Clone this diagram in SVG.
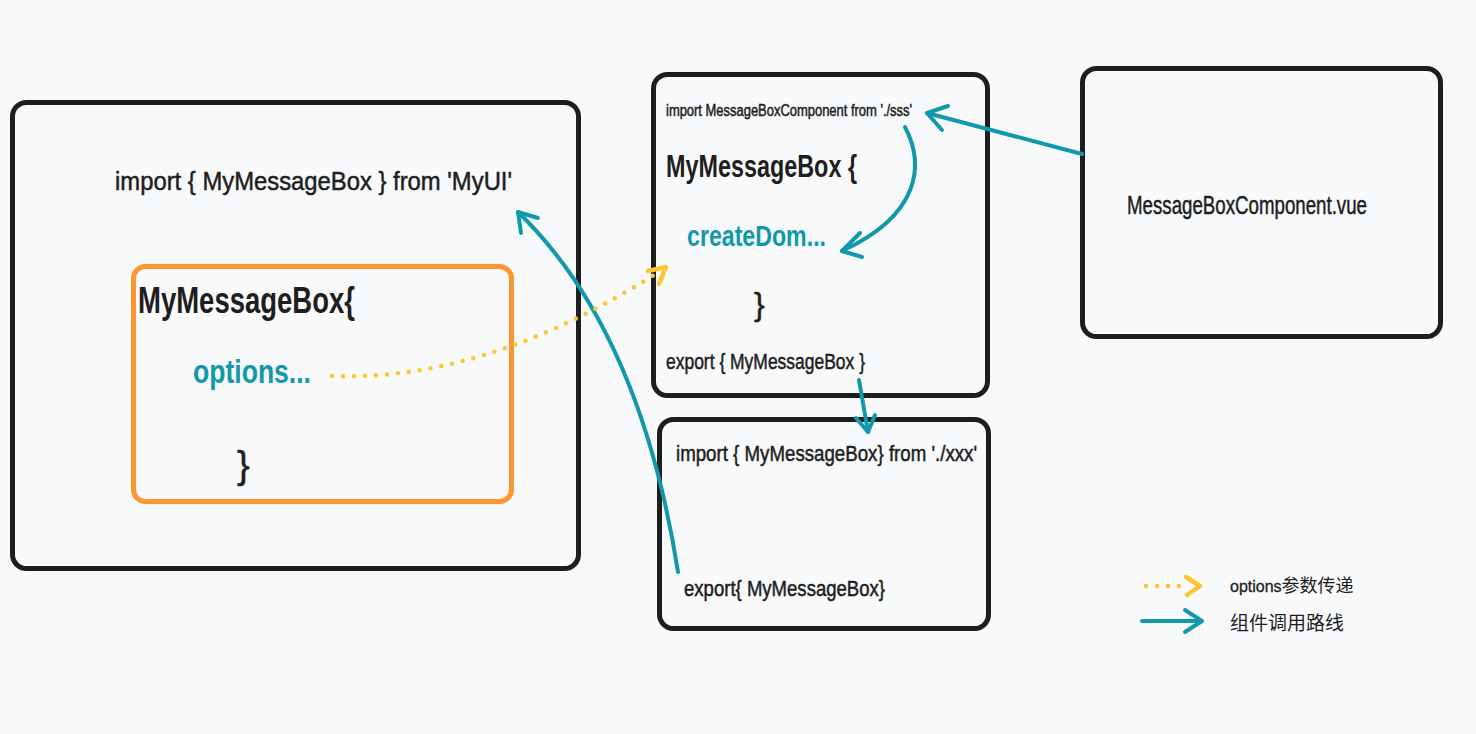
<svg xmlns="http://www.w3.org/2000/svg" width="1476" height="734" viewBox="0 0 1476 734">
<defs>
<style>
.box{fill:none;stroke:#1e1e1e;stroke-width:5;stroke-linejoin:round}
.obox{fill:none;stroke:#fd9632;stroke-width:5;stroke-linejoin:round}
.t{font-family:"Liberation Sans","Noto Sans CJK SC",sans-serif;fill:#1e1e1e}
.r{stroke:#1e1e1e;stroke-width:0.5}
.b{font-weight:bold}
.teal{fill:#1198ab}
.ln{fill:none;stroke:#1098ad;stroke-width:4;stroke-linecap:round;stroke-linejoin:round}
.dot{fill:none;stroke:#fcc630;stroke-width:4.5;stroke-linecap:round;stroke-dasharray:0 11}
.ah{fill:none;stroke:#fcc630;stroke-width:4.5;stroke-linecap:round;stroke-linejoin:round}
</style>
</defs>
<rect width="1476" height="734" fill="#f8f9fa"/>

<g id="node-left">
<rect class="box" x="12.5" y="102.5" width="566" height="466" rx="14"/>
<text class="t r" x="115" y="190" font-size="26" textLength="397" lengthAdjust="spacingAndGlyphs">import { MyMessageBox } from 'MyUI'</text>
</g>

<g id="node-orange">
<rect class="obox" x="133.5" y="266.5" width="378" height="235" rx="12"/>
<text class="t b" x="138" y="313" font-size="37" textLength="217" lengthAdjust="spacingAndGlyphs">MyMessageBox{</text>
<text class="t b teal" x="193" y="383" font-size="33" textLength="118" lengthAdjust="spacingAndGlyphs">options...</text>
<text class="t r" x="237" y="478" font-size="38">}</text>
</g>

<g id="node-mid-top">
<rect class="box" x="653.5" y="74.5" width="334" height="321" rx="14"/>
<text class="t r" x="666" y="116" font-size="16" textLength="246" lengthAdjust="spacingAndGlyphs" stroke-width="0.3">import MessageBoxComponent from './sss'</text>
<text class="t b" x="666" y="177" font-size="31" textLength="191" lengthAdjust="spacingAndGlyphs">MyMessageBox {</text>
<text class="t b teal" x="687" y="246" font-size="30" textLength="139" lengthAdjust="spacingAndGlyphs">createDom...</text>
<text class="t r" x="754" y="315" font-size="32">}</text>
<text class="t r" x="666" y="369" font-size="22" textLength="199" lengthAdjust="spacingAndGlyphs">export { MyMessageBox }</text>
</g>

<g id="node-mid-bottom">
<rect class="box" x="659.5" y="419.5" width="329" height="209" rx="14"/>
<text class="t r" x="676" y="461" font-size="22" textLength="301" lengthAdjust="spacingAndGlyphs">import { MyMessageBox} from './xxx'</text>
<text class="t r" x="684" y="596" font-size="22" textLength="201" lengthAdjust="spacingAndGlyphs">export{ MyMessageBox}</text>
</g>

<g id="node-right">
<rect class="box" x="1082.5" y="68.5" width="358" height="268" rx="14"/>
<text class="t r" x="1127" y="214" font-size="26" textLength="240" lengthAdjust="spacingAndGlyphs">MessageBoxComponent.vue</text>
</g>

<g id="connectors">
<path class="ln" d="M678,572 Q640,330 518,212"/>
<path class="ln" d="M538,218 L518,212 L521,233"/>
<path class="dot" d="M332,376 C450,380 560,335 662,270"/>
<path class="ah" d="M648,271 L666,267 L659,284"/>
<path class="ln" d="M905,127 C925,165 920,215 842,251"/>
<path class="ln" d="M860,233 L842,251 L862,257"/>
<path class="ln" d="M1082,154 L927,113"/>
<path class="ln" d="M948,106 L927,113 L942,130"/>
<path class="ln" d="M859,380 L868,432"/>
<path class="ln" d="M856,418 L868,432 L875,415"/>
</g>

<g id="legend">
<path class="dot" d="M1146,586 L1182,586"/>
<path class="ah" d="M1186,577 L1200,586 L1187,595"/>
<path class="ln" d="M1142,621 L1201,621"/>
<path class="ln" d="M1185,610 L1202,621 L1185,632"/>
<text class="t" x="1230" y="592" font-size="18"><tspan font-size="16" stroke="#1e1e1e" stroke-width="0.3">options</tspan>参数传递</text>
<text class="t" x="1230" y="630" font-size="19">组件调用路线</text>
</g>
</svg>
